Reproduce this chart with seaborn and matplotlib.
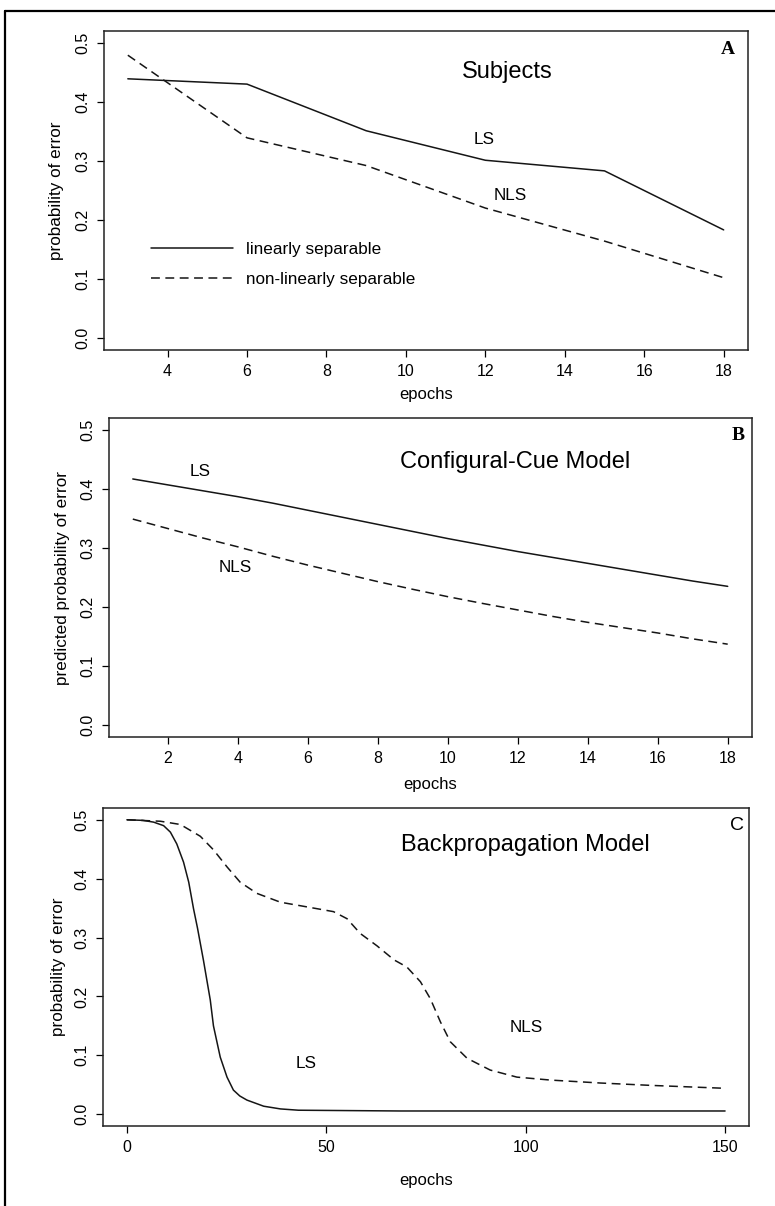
import seaborn as sns
import matplotlib.pyplot as plt
from matplotlib.lines import Line2D

# panel A: subjects
epochs_a = [3, 6, 9, 12, 15, 18]
subj_ls = [0.439, 0.430, 0.351, 0.301, 0.283, 0.183]
subj_nls = [0.479, 0.339, 0.292, 0.220, 0.164, 0.102]

# panel B: configural-cue model
epochs_b = list(range(1, 19))
cc_ls = [0.417, 0.407, 0.397, 0.387, 0.376, 0.364, 0.352, 0.340, 0.328,
         0.316, 0.305, 0.294, 0.284, 0.274, 0.264, 0.254, 0.244, 0.235]
cc_nls = [0.349, 0.333, 0.317, 0.302, 0.286, 0.271, 0.257, 0.243, 0.230,
          0.2175, 0.206, 0.195, 0.184, 0.174, 0.165, 0.156, 0.146, 0.137]

# panel C: backpropagation model
epochs_c_ls = [0, 4, 6.7, 9.2, 10.9, 12.5, 14.2, 15.5, 16.7, 17.7, 19.2,
               20.9, 21.7, 23.4, 25.1, 26.7, 28.3, 30.1, 34.3, 38.5, 43,
               68.6, 150]
bp_ls = [0.500, 0.499, 0.496, 0.490, 0.479, 0.459, 0.428, 0.394, 0.349,
         0.316, 0.261, 0.194, 0.150, 0.097, 0.063, 0.041, 0.031, 0.024,
         0.0136, 0.009, 0.0068, 0.0055, 0.0055]
epochs_c_nls = [0, 8.4, 13.4, 18.4, 21.7, 25.1, 28.4, 32.6, 38.5, 45.2,
                51.8, 55.2, 58.5, 62.7, 67.0, 70.2, 73.6, 76.1, 78.6, 81.1,
                85.3, 91.1, 97.8, 106.2, 118.7, 131.3, 150]
bp_nls = [0.5, 0.4975, 0.492, 0.472, 0.449, 0.420, 0.394, 0.375, 0.360,
          0.352, 0.344, 0.332, 0.307, 0.286, 0.262, 0.250, 0.225, 0.196,
          0.157, 0.123, 0.095, 0.075, 0.063, 0.058, 0.053, 0.049, 0.044]

yticks = [0.0, 0.1, 0.2, 0.3, 0.4, 0.5]

sns.set_theme(style="ticks")
plt.rcParams["font.family"] = ["Liberation Sans", "DejaVu Sans"]
plt.rcParams["text.color"] = "black"
plt.rcParams["axes.labelcolor"] = "black"

W, H = 775, 1206
fig = plt.figure(figsize=(W / 100, H / 100), dpi=100)
fig.patch.set_facecolor("white")

DASH = (0, (5.8, 3.6))
LINE = "#151515"


def px_axes(left, top, right, bottom):
    return fig.add_axes([left / W, 1 - bottom / H, (right - left) / W, (bottom - top) / H])


def ptext(x, y, s, **kw):
    fig.text(x / W, 1 - y / H, s, ha="center", va="center", color="black", **kw)


def style_axes(ax, xlim, xticks, ylabel, box, ylab_x, xlab_y):
    left, top, right, bottom = box
    ax.set_xlim(*xlim)
    ax.set_ylim(-0.02, 0.52)
    ax.set_xticks(xticks)
    ax.set_yticks(yticks)
    ax.set_yticklabels([f"{v:.1f}" for v in yticks], rotation=90, va="center")
    ax.tick_params(direction="out", length=5, width=0.9, color="black",
                   labelsize=11.5, labelcolor="black", pad=5)
    for sp in ax.spines.values():
        sp.set_visible(True)
        sp.set_color("#222222")
        sp.set_linewidth(1.1)
    ax.set_facecolor("white")
    ax.set_xlabel("epochs", fontsize=12, color="black")
    ax.set_ylabel(ylabel, fontsize=12.3, color="black")
    ax.xaxis.set_label_coords(0.5, (bottom - xlab_y) / (bottom - top))
    ax.xaxis.label.set_va("center")
    ax.yaxis.set_label_coords((ylab_x - left) / (right - left), 0.5)
    ax.yaxis.label.set_va("center")


# ---- panel A
box_a = (104, 31, 747.5, 349.7)
ax_a = px_axes(*box_a)
sns.lineplot(x=epochs_a, y=subj_ls, ax=ax_a, color=LINE, linewidth=1.1,
             label="linearly separable")
sns.lineplot(x=epochs_a, y=subj_nls, ax=ax_a, color=LINE, linewidth=1.1,
             linestyle=DASH, label="non-linearly separable")
style_axes(ax_a, (2.4, 18.6), [4, 6, 8, 10, 12, 14, 16, 18],
           "probability of error", box_a, 57, 395)
leg = ax_a.legend(loc="center left", bbox_to_anchor=(0.073, 0.268), frameon=False,
                  fontsize=12.3, handlelength=4.78, handletextpad=0.78,
                  labelspacing=0.9, borderpad=0, borderaxespad=0)
for t in leg.get_texts():
    t.set_color("black")
ptext(507, 72, "Subjects", fontsize=17)
ptext(484, 140, "LS", fontsize=12.3)
ptext(510, 196, "NLS", fontsize=12.3)
ptext(728, 50, "A", fontsize=14, family="Liberation Serif", weight="bold")

# ---- panel B
box_b = (109, 418.2, 751.5, 736.8)
ax_b = px_axes(*box_b)
sns.lineplot(x=epochs_b, y=cc_ls, ax=ax_b, color=LINE, linewidth=1.1)
sns.lineplot(x=epochs_b, y=cc_nls, ax=ax_b, color=LINE, linewidth=1.1,
             linestyle=DASH)
style_axes(ax_b, (0.32, 18.68), [2, 4, 6, 8, 10, 12, 14, 16, 18],
           "predicted probability of error", box_b, 62, 785)
ptext(515, 462, "Configural-Cue Model", fontsize=17)
ptext(200, 472, "LS", fontsize=12.3)
ptext(235, 567, "NLS", fontsize=12.3)
ptext(738, 435, "B", fontsize=14, family="Liberation Serif", weight="bold")

# ---- panel C
box_c = (103, 808, 749, 1126)
ax_c = px_axes(*box_c)
sns.lineplot(x=epochs_c_ls, y=bp_ls, ax=ax_c, color=LINE, linewidth=1.1)
sns.lineplot(x=epochs_c_nls, y=bp_nls, ax=ax_c, color=LINE, linewidth=1.1,
             linestyle=DASH)
style_axes(ax_c, (-6, 156), [0, 50, 100, 150],
           "probability of error", box_c, 58, 1180)
ptext(525, 845, "Backpropagation Model", fontsize=17)
ptext(306, 1063, "LS", fontsize=12.3)
ptext(526, 1027, "NLS", fontsize=12.3)
ptext(737, 825, "C", fontsize=14)

# outer frame (top and left edges of the page box)
fig.add_artist(Line2D([5 / W, 1], [1 - 11 / H, 1 - 11 / H],
                      transform=fig.transFigure, color="black", linewidth=1.6))
fig.add_artist(Line2D([5 / W, 5 / W], [0, 1 - 11 / H],
                      transform=fig.transFigure, color="black", linewidth=1.6))

fig.savefig("out.png", dpi=100, facecolor="white")
